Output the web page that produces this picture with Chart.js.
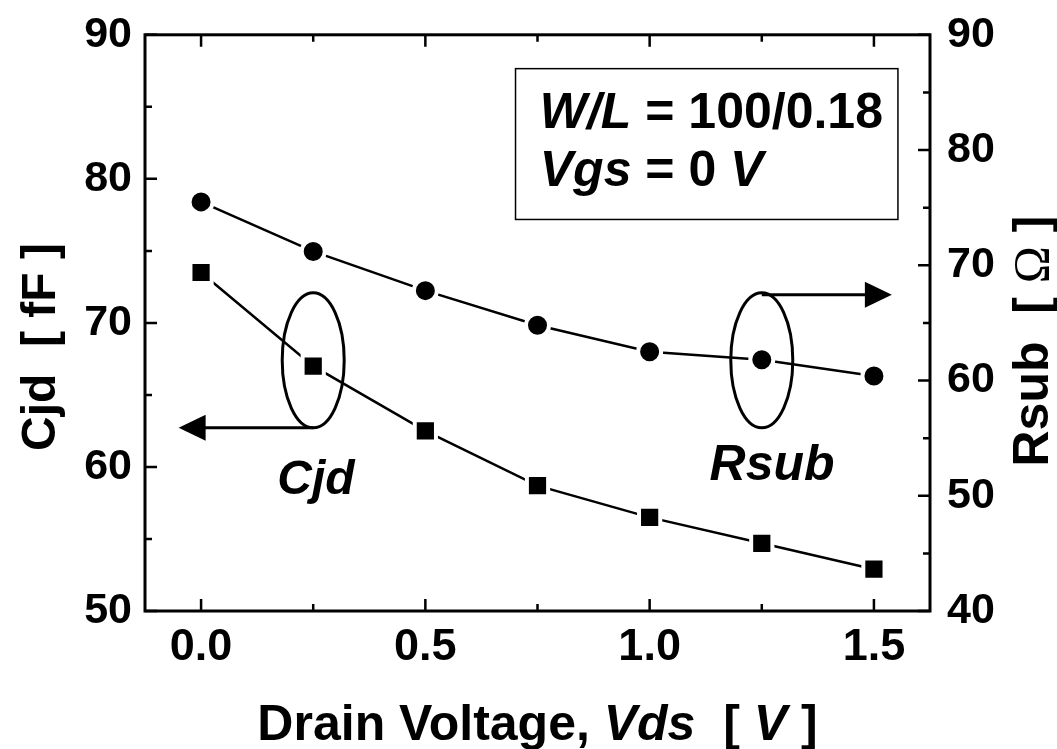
<!DOCTYPE html>
<html>
<head>
<meta charset="utf-8">
<script src="https://cdn.jsdelivr.net/npm/chart.js@4.4.0/dist/chart.umd.min.js"></script>
<style>
  html, body { margin: 0; padding: 0; background: #fff; }
</style>
</head>
<body>
<canvas id="chart" width="1057" height="749"></canvas>
<script>
// data
const vds = [0, 0.25, 0.5, 0.75, 1.0, 1.25, 1.5];
const cjd = [73.5, 67.0, 62.5, 58.7, 56.5, 54.7, 52.9];   // fF, left axis
const rsub = [75.5, 71.2, 67.8, 64.8, 62.5, 61.8, 60.4];  // ohm, right axis

const xTickValues = [0, 0.25, 0.5, 0.75, 1.0, 1.25, 1.5];
const xRange = [-0.125, 1.625];
const cjdRange = [50, 90];
const rsubRange = [40, 90];

const FONT = "'Liberation Sans', Arial, Helvetica, sans-serif";
const B = s => `bold ${s}px ${FONT}`;
const BI = s => `italic bold ${s}px ${FONT}`;

// draw a line of text made of runs with different fonts
function drawRuns(ctx, parts, x, y, align) {
  let w = 0;
  parts.forEach(p => { ctx.font = p[1]; w += ctx.measureText(p[0]).width; });
  let cx = align === 'center' ? x - w / 2 : x;
  ctx.textAlign = 'left';
  ctx.textBaseline = 'alphabetic';
  parts.forEach(p => {
    ctx.font = p[1];
    ctx.fillText(p[0], cx, y);
    cx += ctx.measureText(p[0]).width;
  });
}

const isHalf = v => Math.abs(v * 2 - Math.round(v * 2)) < 1e-6;

// frame + inward ticks + axis titles
const framePlugin = {
  id: 'frame',
  afterDraw(chart) {
    const { ctx, chartArea: a, scales } = chart;
    ctx.save();
    ctx.strokeStyle = '#000';
    ctx.lineWidth = 3;
    ctx.strokeRect(a.left, a.top, a.right - a.left, a.bottom - a.top);

    ctx.lineWidth = 2.5;
    ctx.beginPath();
    scales.x.ticks.forEach(t => {
      const px = scales.x.getPixelForValue(t.value);
      const len = isHalf(t.value) ? 12 : 7;
      ctx.moveTo(px, a.bottom); ctx.lineTo(px, a.bottom - len);
      ctx.moveTo(px, a.top); ctx.lineTo(px, a.top + len);
    });
    scales.y.ticks.forEach(t => {
      const py = scales.y.getPixelForValue(t.value);
      const len = t.value % 10 === 0 ? 12 : 7;
      ctx.moveTo(a.left, py); ctx.lineTo(a.left + len, py);
    });
    scales.y1.ticks.forEach(t => {
      const py = scales.y1.getPixelForValue(t.value);
      const len = t.value % 10 === 0 ? 12 : 7;
      ctx.moveTo(a.right, py); ctx.lineTo(a.right - len, py);
    });
    ctx.stroke();

    ctx.fillStyle = '#000';
    const cx = (a.left + a.right) / 2;
    drawRuns(ctx, [['Drain Voltage, ', B(50)], ['Vds', BI(50)], ['  [ ', B(50)], ['V', BI(50)], [' ]', B(50)]], cx, 740, 'center');

    ctx.save();
    ctx.translate(55, 347);
    ctx.rotate(-Math.PI / 2);
    drawRuns(ctx, [['Cjd  [ fF ]', B(48)]], 0, 0, 'center');
    ctx.restore();

    ctx.save();
    ctx.translate(1048, 341);
    ctx.rotate(-Math.PI / 2);
    drawRuns(ctx, [['Rsub  [ ', B(50)], ['\u03A9', `50px 'Liberation Serif', 'Times New Roman', serif`], [' ]', B(50)]], 0, 0, 'center');
    ctx.restore();

    ctx.restore();
  }
};

// ellipses, arrows, labels and the condition box
const notesPlugin = {
  id: 'notes',
  afterDatasetsDraw(chart) {
    const { ctx, scales: { x, y } } = chart;
    ctx.save();
    ctx.strokeStyle = '#000';
    ctx.fillStyle = '#000';
    ctx.lineWidth = 3;

    const ey = y.getPixelForValue(67.4);
    const rx = 31, ry = 67.5;
    [0.25, 1.25].forEach(v => {
      ctx.beginPath();
      ctx.ellipse(x.getPixelForValue(v), ey, rx, ry, 0, 0, Math.PI * 2);
      ctx.stroke();
    });

    // left arrow -> Cjd axis
    let sx = x.getPixelForValue(0.25), sy = ey + ry, tip = x.getPixelForValue(-0.05);
    ctx.beginPath(); ctx.moveTo(sx, sy); ctx.lineTo(tip + 24, sy); ctx.stroke();
    ctx.beginPath(); ctx.moveTo(tip, sy); ctx.lineTo(tip + 27, sy - 13); ctx.lineTo(tip + 27, sy + 13); ctx.closePath(); ctx.fill();

    // right arrow -> Rsub axis
    sx = x.getPixelForValue(1.25); sy = ey - ry + 2; tip = x.getPixelForValue(1.54);
    ctx.beginPath(); ctx.moveTo(sx, sy); ctx.lineTo(tip - 24, sy); ctx.stroke();
    ctx.beginPath(); ctx.moveTo(tip, sy); ctx.lineTo(tip - 27, sy - 13); ctx.lineTo(tip - 27, sy + 13); ctx.closePath(); ctx.fill();

    drawRuns(ctx, [['Cjd', BI(48)]], x.getPixelForValue(0.256), y.getPixelForValue(58.15), 'center');
    drawRuns(ctx, [['Rsub', BI(50)]], x.getPixelForValue(1.273), y.getPixelForValue(59.07), 'center');

    // condition box
    const bl = x.getPixelForValue(0.701), br = x.getPixelForValue(1.5535);
    const bt = y.getPixelForValue(87.65), bb = y.getPixelForValue(77.18);
    ctx.lineWidth = 1.5;
    ctx.strokeRect(bl, bt, br - bl, bb - bt);
    const tx = x.getPixelForValue(0.755);
    drawRuns(ctx, [['W/L', BI(50)], [' = 100/0.18', B(50)]], tx, y.getPixelForValue(83.52), 'left');
    drawRuns(ctx, [['Vgs', BI(50)], [' = 0 ', B(50)], ['V', BI(50)]], tx, y.getPixelForValue(79.48), 'left');

    ctx.restore();
  }
};

const ctx = document.getElementById('chart').getContext('2d');
new Chart(ctx, {
  type: 'line',
  data: {
    datasets: [
      {
        label: 'Cjd',
        data: vds.map((v, i) => ({ x: v, y: cjd[i] })),
        yAxisID: 'y',
        borderColor: '#000',
        borderWidth: 2.5,
        pointStyle: 'rect',
        pointRadius: 15,
        pointBackgroundColor: '#000',
        pointBorderColor: '#fff',
        pointBorderWidth: 4,
        tension: 0
      },
      {
        label: 'Rsub',
        data: vds.map((v, i) => ({ x: v, y: rsub[i] })),
        yAxisID: 'y1',
        borderColor: '#000',
        borderWidth: 2.5,
        pointStyle: 'circle',
        pointRadius: 11.5,
        pointBackgroundColor: '#000',
        pointBorderColor: '#fff',
        pointBorderWidth: 4,
        tension: 0
      }
    ]
  },
  options: {
    responsive: false,
    animation: false,
    events: [],
    layout: { padding: { top: 33, left: 0, right: 0, bottom: 0 } },
    plugins: {
      legend: { display: false },
      tooltip: { enabled: false }
    },
    scales: {
      x: {
        type: 'linear',
        min: xRange[0],
        max: xRange[1],
        grid: { display: false },
        border: { display: false },
        afterBuildTicks: s => { s.ticks = xTickValues.map(v => ({ value: v })); },
        ticks: {
          autoSkip: false,
          maxRotation: 0,
          padding: 2,
          color: '#000',
          font: { family: FONT, size: 45, weight: 'bold' },
          callback: v => (isHalf(v) ? v.toFixed(1) : '')
        },
        afterFit: s => { s.height = 138; }
      },
      y: {
        position: 'left',
        min: cjdRange[0],
        max: cjdRange[1],
        grid: { display: false },
        border: { display: false },
        ticks: {
          stepSize: 5,
          padding: 5,
          color: '#000',
          font: { family: FONT, size: 43, weight: 'bold' },
          callback: v => (v % 10 === 0 ? v : '')
        },
        afterFit: s => { s.width = 145; }
      },
      y1: {
        position: 'right',
        min: rsubRange[0],
        max: rsubRange[1],
        grid: { display: false },
        border: { display: false },
        ticks: {
          stepSize: 5,
          padding: 9,
          color: '#000',
          font: { family: FONT, size: 43, weight: 'bold' },
          callback: v => (v % 10 === 0 ? v : '')
        },
        afterFit: s => { s.width = 127; }
      }
    }
  },
  plugins: [notesPlugin, framePlugin]
});
</script>
</body>
</html>
